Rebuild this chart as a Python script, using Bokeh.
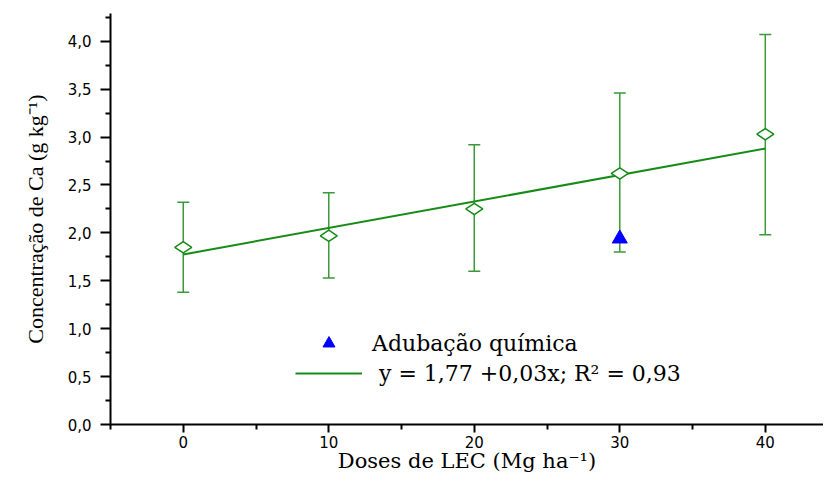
import math
from bokeh.plotting import figure
from bokeh.models import (ColumnDataSource, Range1d, FixedTicker, Whisker, TeeHead,
                          Legend, LegendItem)
from bokeh.embed import file_html
from bokeh.resources import INLINE

# ---- data ----
doses = [0, 10, 20, 30, 40]
ca_mean = [1.85, 1.97, 2.25, 2.62, 3.03]
ca_upper = [2.32, 2.42, 2.92, 3.46, 4.07]
ca_lower = [1.38, 1.53, 1.60, 1.80, 1.98]
quim_x = [30]
quim_y = [1.94]
fit_x = [0, 40]
fit_y = [1.775, 2.88]
y_ticks = [0.0, 0.5, 1.0, 1.5, 2.0, 2.5, 3.0, 3.5, 4.0]
y_tick_labels = ["0,0", "0,5", "1,0", "1,5", "2,0", "2,5", "3,0", "3,5", "4,0"]
y_minor = [0.25, 0.75, 1.25, 1.75, 2.25, 2.75, 3.25, 3.75, 4.25]
x_ticks = [0, 10, 20, 30, 40]
x_minor = [-5, 5, 15, 25, 35]

GREEN = "#168c16"
BAR_GREEN = "#3a9a3a"
BLUE = "#0000ff"

p = figure(width=823, height=475, output_backend="svg", toolbar_location=None,
           x_range=Range1d(-5, 44.0), y_range=Range1d(0, 4.29),
           min_border_left=110, min_border_right=0, min_border_top=13,
           min_border_bottom=51)
p.outline_line_color = None
p.xgrid.visible = False
p.ygrid.visible = False
p.background_fill_color = "white"
p.border_fill_color = "white"

src = ColumnDataSource(dict(x=doses, y=ca_mean, upper=ca_upper, lower=ca_lower))

wh = Whisker(source=src, base="x", upper="upper", lower="lower",
             line_color=BAR_GREEN, line_width=1.5,
             upper_head=TeeHead(size=12, line_color=BAR_GREEN, line_width=1.5),
             lower_head=TeeHead(size=12, line_color=BAR_GREEN, line_width=1.5))
p.add_layout(wh)

line_r = p.line(fit_x, fit_y, line_color=GREEN, line_width=2)

p.scatter("x", "y", source=src, marker="diamond", size=17, angle=math.pi / 2,
          fill_color="white", line_color=GREEN, line_width=1.5)

tri_r = p.scatter(quim_x, quim_y, marker="triangle", size=15,
                  fill_color=BLUE, line_color=BLUE)

# axes
for ax in (p.xaxis[0], p.yaxis[0]):
    ax.axis_line_width = 2
    ax.axis_line_color = "black"
    ax.major_tick_line_width = 2
    ax.minor_tick_line_width = 2
    ax.major_tick_in = 0
    ax.minor_tick_in = 0
    ax.major_tick_out = 8
    ax.minor_tick_out = 5
    ax.major_label_text_font = "DejaVu Sans"
    ax.major_label_text_font_size = "15px"
    ax.major_label_text_color = "black"
    ax.axis_label_text_font_style = "normal"
    ax.axis_label_text_color = "black"

p.yaxis[0].ticker = FixedTicker(ticks=y_ticks, minor_ticks=y_minor)
p.yaxis[0].major_label_overrides = {t: l for t, l in zip(y_ticks, y_tick_labels)}
p.yaxis[0].major_tick_out = 10
p.yaxis[0].major_label_standoff = 9
p.yaxis[0].axis_label = "Concentração de Ca (g kg⁻¹)"
p.yaxis[0].axis_label_text_font = "Liberation Serif"
p.yaxis[0].axis_label_text_font_size = "22px"
p.yaxis[0].axis_label_standoff = 17

p.xaxis[0].ticker = FixedTicker(ticks=x_ticks, minor_ticks=x_minor)
p.xaxis[0].major_label_standoff = 3
p.xaxis[0].axis_label = "Doses de LEC (Mg ha⁻¹)"
p.xaxis[0].axis_label_text_font = "DejaVu Serif"
p.xaxis[0].axis_label_text_font_size = "21px"
p.xaxis[0].axis_label_standoff = -2

legend = Legend(items=[LegendItem(label="Adubação química", renderers=[tri_r]),
                       LegendItem(label=" y = 1,77 +0,03x; R² = 0,93", renderers=[line_r])],
                location=(185, 36), orientation="vertical",
                glyph_width=67, glyph_height=30, label_height=30,
                label_standoff=10, spacing=0, padding=0, margin=0,
                border_line_color=None, background_fill_alpha=0,
                label_text_font="DejaVu Serif", label_text_font_size="22px",
                label_text_color="black")
p.add_layout(legend)

open("out.html", "w").write(file_html(p, INLINE))
